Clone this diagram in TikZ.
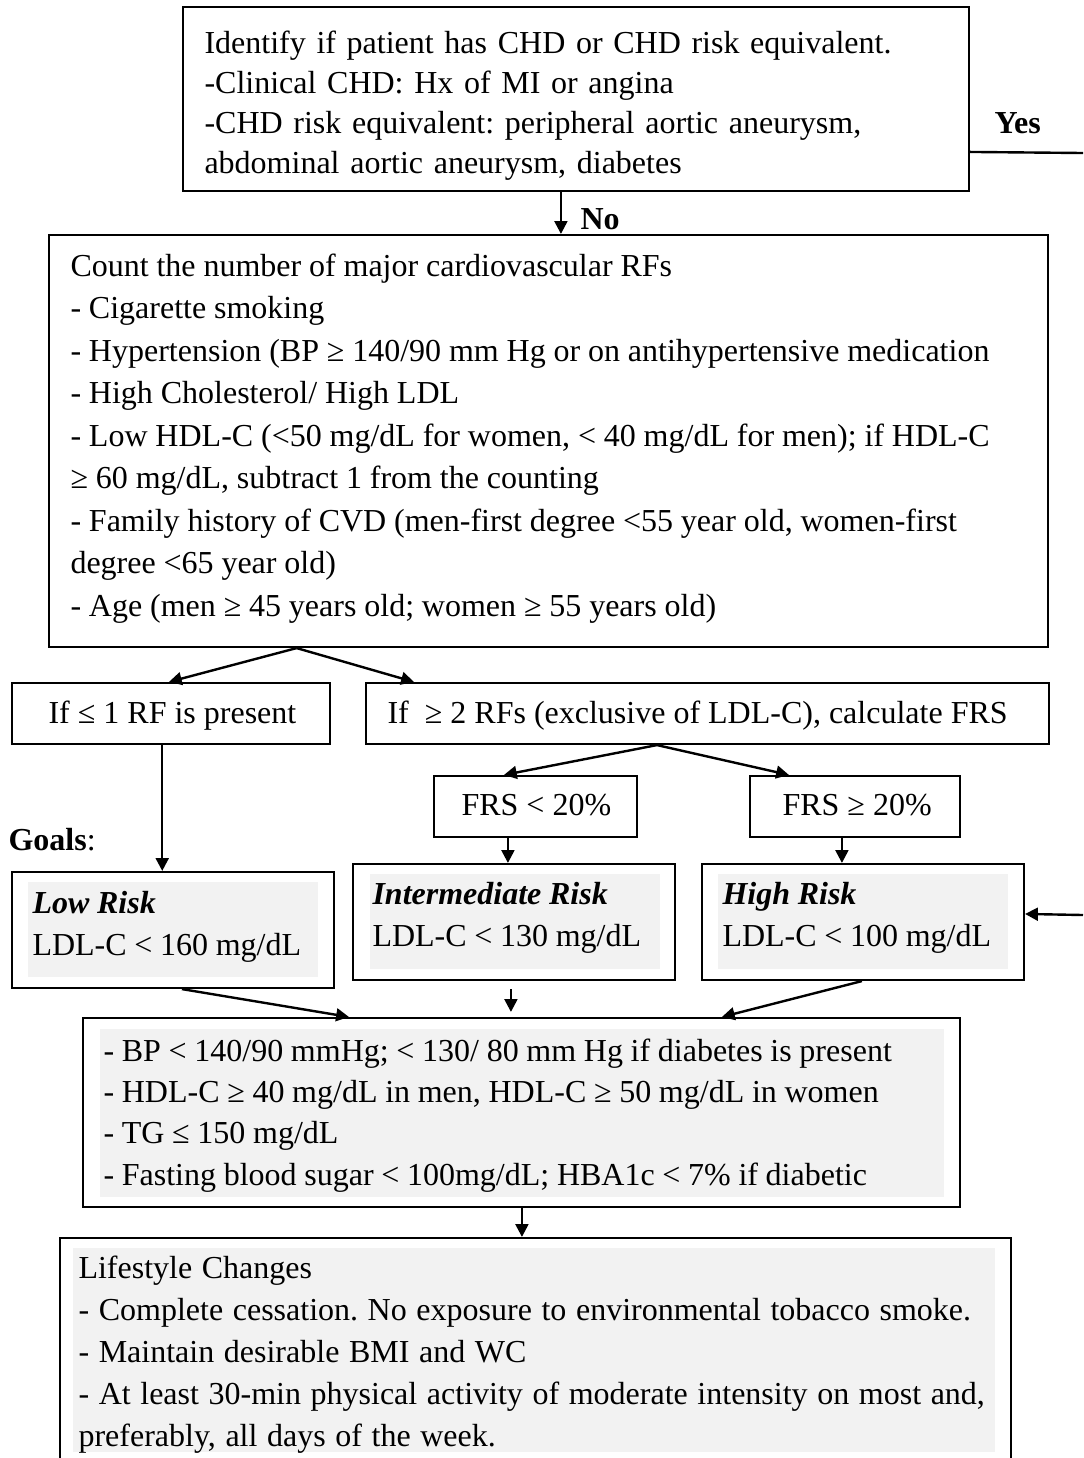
\documentclass[tikz,border=0pt]{standalone}
\usepackage{fontspec}
\setmainfont{Liberation Serif}
\usetikzlibrary{arrows.meta,calc,fit}
\definecolor{greyfill}{RGB}{242,242,242}
\frenchspacing
\newcommand\wsp[1]{\spaceskip=#1\relax}
\begin{document}
\begin{tikzpicture}[x=0.375pt,y=-0.375pt,
  box/.style={draw, line width=0.8pt, fill=white, inner sep=0pt},
  greybox/.style={draw=none, fill=greyfill, inner sep=0pt},
  txt/.style={inner sep=0pt, anchor=base west, align=left, font=\fontsize{12pt}{15pt}\selectfont},
  lsk/.style={font=\fontsize{12pt}{#1}\selectfont},
  arr/.style={-{Triangle[length=4.8pt,width=4.8pt]}, line width=0.9pt},
  plainline/.style={line width=0.9pt}]
\useasboundingbox[fill=white] (0,0) rectangle (1083,1458);

% boxes
\node[box, fit={(183,7) (969,191)}] (top) {};
\node[box, fit={(49,235) (1048,647)}] (count) {};
\node[box, fit={(12,683) (330,744)}] (le1) {};
\node[box, fit={(366,683) (1049,744)}] (ge2) {};
\node[box, fit={(434,776) (637,837)}] (frsl) {};
\node[box, fit={(750,776) (960,837)}] (frsh) {};
\node[box, fit={(12,872) (334,988)}] (low) {};
\node[box, fit={(353,864) (675,980)}] (int) {};
\node[box, fit={(702,864) (1024,980)}] (high) {};
\node[box, fit={(83,1018) (960,1207)}] (goals) {};
\begin{scope}
  \clip (0,0) rectangle (1083,1458);
  \node[box, fit={(60,1238) (1011,1480)}] (life) {};
\end{scope}

% grey fills
\node[greybox, fit={(28,882) (318,977)}] (lowg) {};
\node[greybox, fit={(370,874) (660,969)}] (intg) {};
\node[greybox, fit={(718,874) (1008,969)}] (highg) {};
\node[greybox, fit={(100,1029) (944,1197)}] (goalsg) {};
\node[greybox, fit={(73,1248) (995,1452)}] (lifeg) {};

% texts
\node[txt, text width=285pt] (toptxt) at (204,53) {Identify if patient has CHD or CHD risk equivalent.\\
-Clinical CHD: Hx of MI or angina\\
-CHD risk equivalent: peripheral aortic aneurysm,\\
abdominal aortic aneurysm, diabetes};

\node[txt, text width=363pt, lsk=15.94pt] (counttxt) at (70,276) {\wsp{0.245em}Count the number of major cardiovascular RFs\\
- Cigarette smoking\\
- Hypertension (BP ≥ 140/90 mm Hg or on antihypertensive medication\\
- High Cholesterol/ High LDL\\
- Low HDL-C (<50 mg/dL for women, < 40 mg/dL for men); if HDL-C\\
≥ 60 mg/dL, subtract 1 from the counting\\
- Family history of CVD (men-first degree <55 year old, women-first\\
degree <65 year old)\\
- Age (men ≥ 45 years old; women ≥ 55 years old)};

\node[txt] (le1txt) at (48,723) {If ≤ 1 RF is present};
\node[txt] (ge2txt) at (387,723) {If\ \ ≥ 2 RFs (exclusive of LDL-C), calculate FRS};
\node[txt] (frsltxt) at (461,815) {FRS < 20\%};
\node[txt] (frshtxt) at (782,815) {FRS ≥ 20\%};
\node[txt] (goalslbl) at (8,850) {\textbf{Goals}:};

\node[txt, text width=110pt, lsk=15.75pt] (lowtxt) at (32,913) {\wsp{0.24em}\textbf{\textit{Low Risk}}\\
LDL-C < 160 mg/dL};
\node[txt, text width=110pt, lsk=16.1pt] (inttxt) at (372,904) {\wsp{0.24em}\textbf{\textit{Intermediate Risk}}\\
LDL-C < 130 mg/dL};
\node[txt, text width=110pt, lsk=16.1pt] (hightxt) at (722,904) {\wsp{0.24em}\textbf{\textit{High Risk}}\\
LDL-C < 100 mg/dL};

\node[txt, text width=315pt, lsk=15.5pt] (goalstxt) at (103,1061) {\wsp{0.24em}- BP < 140/90 mmHg; < 130/ 80 mm Hg if diabetes is present\\
- HDL-C ≥ 40 mg/dL in men, HDL-C ≥ 50 mg/dL in women\\
- TG ≤ 150 mg/dL\\
- Fasting blood sugar < 100mg/dL; HBA1c < 7\% if diabetic};

\node[txt, text width=350pt, lsk=15.75pt] (lifetxt) at (78,1278) {\wsp{0.3em}Lifestyle Changes\\
- Complete cessation. No exposure to environmental tobacco smoke.\\
- Maintain desirable BMI and WC\\
- At least 30-min physical activity of moderate intensity on most and,\\
preferably, all days of the week.};

\node[txt] (yes) at (994,133) {\textbf{Yes}};
\node[txt] (no) at (580,229) {\textbf{No}};

% connectors
\coordinate (yesend) at (1083,153);
\coordinate (hin) at (1083,915);
\draw[plainline] ($(top.north east)+(0,146)$) -- (yesend);
\draw[arr] ($(top.south west)+(379,0)$) -- ($(count.north west)+(513,0)$);
\draw[arr] ($(count.south west)+(248.7,0)$) -- ($(le1.north west)+(158,0)$);
\draw[arr] ($(count.south west)+(248.7,0)$) -- ($(ge2.north west)+(49,0)$);
\draw[arr] ($(ge2.south west)+(292,0)$) -- ($(frsl.north west)+(71,0)$);
\draw[arr] ($(ge2.south west)+(292,0)$) -- ($(frsh.north west)+(40,0)$);
\draw[arr] ($(le1.south west)+(151.3,0)$) -- ($(low.north west)+(151.3,0)$);
\draw[arr] ($(frsl.south west)+(75,0)$) -- ($(int.north west)+(156,0)$);
\draw[arr] ($(frsh.south west)+(93,0)$) -- ($(high.north west)+(141,0)$);
\draw[arr] (hin) -- ($(high.north east)+(0,51)$);
\draw[arr] ($(low.south west)+(171,0)$) -- ($(goals.north west)+(267,0)$);
\draw[arr] ($(int.south west)+(159,8)$) -- ($(goals.north west)+(429,-5)$);
\draw[arr] ($(high.south west)+(161,0)$) -- ($(goals.north west)+(640,0)$);
\draw[arr] ($(goals.south west)+(440,0)$) -- ($(life.north west)+(463,0)$);
\end{tikzpicture}
\end{document}
